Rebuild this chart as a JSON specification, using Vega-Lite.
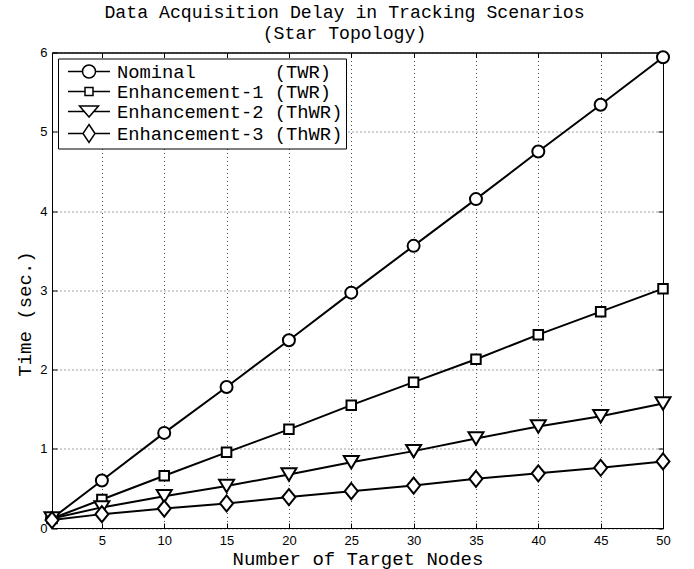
{
  "$schema": "https://vega.github.io/schema/vega-lite/v6.json",
  "width": 611,
  "height": 475.5,
  "autosize": "none",
  "padding": {"left": 52, "top": 52.5, "right": 31, "bottom": 41},
  "background": "white",
  "title": {
    "text": ["Data Acquisition Delay in Tracking Scenarios", "(Star Topology)"],
    "font": "Liberation Mono", "fontSize": 18.2, "fontWeight": "normal", "color": "black",
    "anchor": "middle", "frame": "group", "dx": -13, "offset": 3, "lineHeight": 21.5
  },
  "data": {"values": [
    {"n": 1, "t": 0.12, "s": "Nominal"}, {"n": 5, "t": 0.60, "s": "Nominal"}, {"n": 10, "t": 1.20, "s": "Nominal"}, {"n": 15, "t": 1.78, "s": "Nominal"}, {"n": 20, "t": 2.37, "s": "Nominal"}, {"n": 25, "t": 2.97, "s": "Nominal"}, {"n": 30, "t": 3.56, "s": "Nominal"}, {"n": 35, "t": 4.15, "s": "Nominal"}, {"n": 40, "t": 4.75, "s": "Nominal"}, {"n": 45, "t": 5.34, "s": "Nominal"}, {"n": 50, "t": 5.94, "s": "Nominal"},
    {"n": 1, "t": 0.12, "s": "Enhancement-1"}, {"n": 5, "t": 0.36, "s": "Enhancement-1"}, {"n": 10, "t": 0.66, "s": "Enhancement-1"}, {"n": 15, "t": 0.955, "s": "Enhancement-1"}, {"n": 20, "t": 1.245, "s": "Enhancement-1"}, {"n": 25, "t": 1.55, "s": "Enhancement-1"}, {"n": 30, "t": 1.84, "s": "Enhancement-1"}, {"n": 35, "t": 2.13, "s": "Enhancement-1"}, {"n": 40, "t": 2.44, "s": "Enhancement-1"}, {"n": 45, "t": 2.73, "s": "Enhancement-1"}, {"n": 50, "t": 3.02, "s": "Enhancement-1"},
    {"n": 1, "t": 0.12, "s": "Enhancement-2"}, {"n": 5, "t": 0.26, "s": "Enhancement-2"}, {"n": 10, "t": 0.40, "s": "Enhancement-2"}, {"n": 15, "t": 0.53, "s": "Enhancement-2"}, {"n": 20, "t": 0.675, "s": "Enhancement-2"}, {"n": 25, "t": 0.83, "s": "Enhancement-2"}, {"n": 30, "t": 0.97, "s": "Enhancement-2"}, {"n": 35, "t": 1.13, "s": "Enhancement-2"}, {"n": 40, "t": 1.28, "s": "Enhancement-2"}, {"n": 45, "t": 1.41, "s": "Enhancement-2"}, {"n": 50, "t": 1.57, "s": "Enhancement-2"},
    {"n": 1, "t": 0.10, "s": "Enhancement-3"}, {"n": 5, "t": 0.175, "s": "Enhancement-3"}, {"n": 10, "t": 0.245, "s": "Enhancement-3"}, {"n": 15, "t": 0.31, "s": "Enhancement-3"}, {"n": 20, "t": 0.39, "s": "Enhancement-3"}, {"n": 25, "t": 0.465, "s": "Enhancement-3"}, {"n": 30, "t": 0.535, "s": "Enhancement-3"}, {"n": 35, "t": 0.62, "s": "Enhancement-3"}, {"n": 40, "t": 0.69, "s": "Enhancement-3"}, {"n": 45, "t": 0.76, "s": "Enhancement-3"}, {"n": 50, "t": 0.84, "s": "Enhancement-3"}
  ]},
  "layer": [
    {
      "mark": {"type": "line", "color": "black", "strokeWidth": 2},
      "encoding": {
        "x": {"field": "n", "type": "quantitative", "scale": {"domain": [1, 50], "nice": false, "zero": false},
          "axis": {"orient": "bottom", "values": [5, 10, 15, 20, 25, 30, 35, 40, 45, 50], "grid": true,
            "gridDash": [1, 3], "gridColor": "#444", "gridWidth": 1, "tickSize": -5, "labelPadding": 11,
            "title": "Number of Target Nodes", "titlePadding": 2}},
        "y": {"field": "t", "type": "quantitative", "scale": {"domain": [0, 6], "nice": false},
          "axis": {"orient": "left", "values": [0, 1, 2, 3, 4, 5, 6], "grid": true,
            "gridDash": [1, 3], "gridColor": "#444", "gridWidth": 1, "tickSize": -5, "labelPadding": 10,
            "title": "Time (sec.)", "titlePadding": 5, "titleY": 261}},
        "detail": {"field": "s"}
      }
    },
    {
      "transform": [{"filter": "datum.s == 'Nominal'"}],
      "mark": {"type": "point", "filled": true, "fill": "white", "stroke": "black", "strokeWidth": 2, "size": 100, "opacity": 1,
        "shape": "M-1.2,0A1.2,1.2,0,1,0,1.2,0A1.2,1.2,0,1,0,-1.2,0Z"},
      "encoding": {
        "x": {"field": "n", "type": "quantitative",
          "axis": {"orient": "top", "values": [5, 10, 15, 20, 25, 30, 35, 40, 45, 50], "grid": false, "labels": false, "tickSize": -5, "title": null}},
        "y": {"field": "t", "type": "quantitative",
          "axis": {"orient": "right", "values": [0, 1, 2, 3, 4, 5, 6], "grid": false, "labels": false, "tickSize": -5, "title": null}}
      }
    },
    {
      "transform": [{"filter": "datum.s == 'Enhancement-1'"}],
      "mark": {"type": "point", "filled": true, "fill": "white", "stroke": "black", "strokeWidth": 2, "size": 100, "opacity": 1,
        "shape": "M-0.95,-0.95L0.95,-0.95L0.95,0.95L-0.95,0.95Z"},
      "encoding": {
        "x": {"field": "n", "type": "quantitative", "axis": null},
        "y": {"field": "t", "type": "quantitative", "axis": null}
      }
    },
    {
      "transform": [{"filter": "datum.s == 'Enhancement-2'"}],
      "mark": {"type": "point", "filled": true, "fill": "white", "stroke": "black", "strokeWidth": 2, "size": 100, "opacity": 1,
        "shape": "M0,1.25L-1.5,-1.25L1.5,-1.25Z"},
      "encoding": {
        "x": {"field": "n", "type": "quantitative", "axis": null},
        "y": {"field": "t", "type": "quantitative", "axis": null}
      }
    },
    {
      "transform": [{"filter": "datum.s == 'Enhancement-3'"}],
      "mark": {"type": "point", "filled": true, "fill": "white", "stroke": "black", "strokeWidth": 2, "size": 100, "opacity": 1,
        "shape": "M0,-1.6L1.3,0L0,1.6L-1.3,0Z"},
      "encoding": {
        "x": {"field": "n", "type": "quantitative", "axis": null},
        "y": {"field": "t", "type": "quantitative", "axis": null}
      }
    },
    {
      "transform": [{"filter": "datum.n < 0"}],
      "mark": {"type": "point", "filled": true, "fill": "white", "stroke": "black", "strokeWidth": 2, "size": 324, "opacity": 1},
      "encoding": {
        "shape": {"field": "s", "type": "nominal",
          "scale": {"domain": ["Nominal", "Enhancement-1", "Enhancement-2", "Enhancement-3"],
            "range": [
              "M-2.333,0L-0.722,0M0.722,0L2.333,0M-0.722,0A0.722,0.722,0,1,0,0.722,0A0.722,0.722,0,1,0,-0.722,0Z",
              "M-2.333,0L-0.444,0M0.444,0L2.333,0M-0.444,-0.444L0.444,-0.444L0.444,0.444L-0.444,0.444Z",
              "M-2.333,0L-0.528,0M0.528,0L2.333,0M0,0.611L-1.056,-0.611L1.056,-0.611Z",
              "M-2.333,0L-0.667,0M0.667,0L2.333,0M0,-1L0.667,0L0,1L-0.667,0Z"]},
          "legend": {
            "orient": "top-left", "offset": 6, "title": null, "padding": 3,
            "fillColor": "white", "strokeColor": "black",
            "symbolSize": 324, "symbolOffset": 18, "labelOffset": 18, "rowPadding": 0,
            "labelFont": "Liberation Mono", "labelFontSize": 18.8, "labelColor": "black", "labelLimit": 0,
            "labelExpr": "datum.label == 'Nominal' ? 'Nominal\u00a0\u00a0\u00a0\u00a0\u00a0\u00a0\u00a0(TWR)' : datum.label == 'Enhancement-1' ? 'Enhancement-1\u00a0(TWR)' : datum.label == 'Enhancement-2' ? 'Enhancement-2\u00a0(ThWR)' : 'Enhancement-3\u00a0(ThWR)'"
          }
        }
      }
    }
  ],
  "resolve": {"axis": {"x": "independent", "y": "independent"}},
  "config": {
    "view": {"stroke": "black", "strokeWidth": 1},
    "axis": {
      "domainColor": "black", "domainWidth": 1, "tickColor": "black", "tickWidth": 1,
      "labelFont": "Liberation Sans", "labelFontSize": 13, "labelColor": "black", "labelFlush": false,
      "titleFont": "Liberation Mono", "titleFontSize": 19, "titleFontWeight": "normal", "titleColor": "black"
    }
  }
}
